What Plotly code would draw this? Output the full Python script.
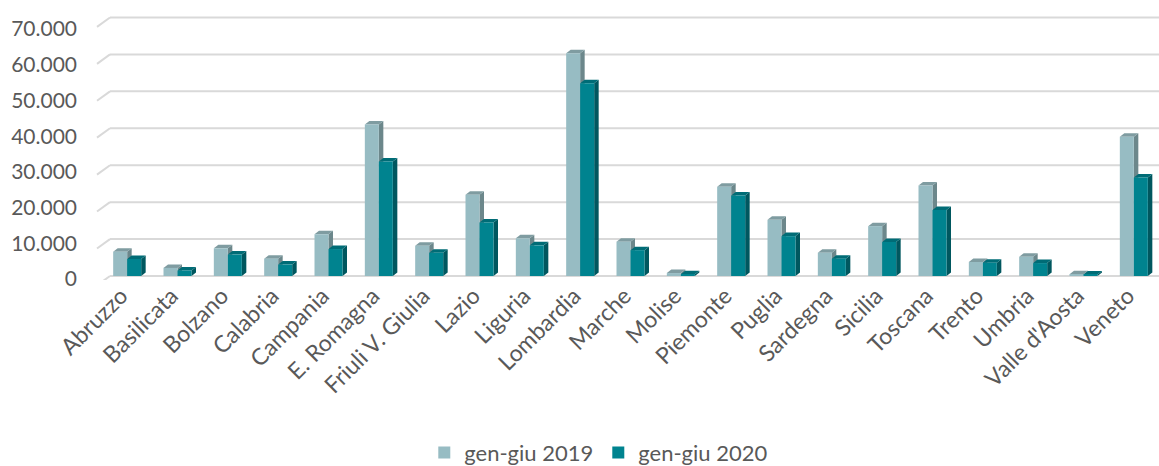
import plotly.graph_objects as go

categories = ["Abruzzo", "Basilicata", "Bolzano", "Calabria", "Campania", "E. Romagna",
              "Friuli V. Giulia", "Lazio", "Liguria", "Lombardia", "Marche", "Molise",
              "Piemonte", "Puglia", "Sardegna", "Sicilia", "Toscana", "Trento", "Umbria",
              "Valle d'Aosta", "Veneto"]
series_2019 = [6600, 2200, 7500, 4700, 11300, 41000, 8200, 22000, 10200, 60300, 9300, 800,
               24200, 15200, 6300, 13500, 24500, 3800, 5200, 500, 37700]
series_2020 = [4600, 1500, 5800, 3100, 7300, 31000, 6300, 14500, 8300, 52200, 7000, 500,
               21800, 10800, 4700, 9200, 17900, 3600, 3500, 400, 26700]
series_names = ["gen-giu 2019", "gen-giu 2020"]
y_ticks = [0, 10000, 20000, 30000, 40000, 50000, 60000, 70000]
y_tick_labels = ["0", "10.000", "20.000", "30.000", "40.000", "50.000", "60.000", "70.000"]

W, H = 1159, 466
ML, MR, MT, MB = 102, 0, 10, 186
plot_w = W - ML - MR
plot_h = H - MT - MB
x_range = [-0.5, len(categories) - 0.5]
y_range = [-1083, 72028]
px_per_x = plot_w / (x_range[1] - x_range[0])
px_per_y = plot_h / (y_range[1] - y_range[0])

bar_w = 14 / px_per_x
depth_x = 4.5 / px_per_x
depth_y = 3.5 / px_per_y

front = ["#97BCC3", "#00838F"]
side = ["#6C878B", "#00575F"]
top = ["#7F9CA1", "#006C76"]
grid_col = "#D9D9D9"
txt = "#595959"
font_family = "Lato, 'Open Sans', sans-serif"

xs = list(range(len(categories)))
shapes = []
# gridlines with small perspective diagonal at the left
diag_dx = 13 / plot_w
diag_dy = 9.4 / px_per_y
start = 8 / plot_w
for t in y_ticks:
    shapes.append(dict(type="line", xref="paper", yref="y", x0=start, x1=1, y0=t, y1=t,
                       line=dict(color=grid_col, width=2), layer="below"))
    shapes.append(dict(type="line", xref="paper", yref="y", x0=start - diag_dx, x1=start,
                       y0=t - diag_dy, y1=t, line=dict(color=grid_col, width=2), layer="below"))

series = [series_2019, series_2020]
offsets = [-bar_w, 0.0]
for s in range(2):
    for i, v in enumerate(series[s]):
        x0 = xs[i] + offsets[s]
        x1 = x0 + bar_w
        # side face
        shapes.append(dict(type="path", xref="x", yref="y", layer="below",
                           path=f"M{x1},0 L{x1 + depth_x},{depth_y} L{x1 + depth_x},{v + depth_y} L{x1},{v} Z",
                           fillcolor=side[s], line=dict(width=0)))
        # top face
        shapes.append(dict(type="path", xref="x", yref="y", layer="below",
                           path=f"M{x0},{v} L{x1},{v} L{x1 + depth_x},{v + depth_y} L{x0 + depth_x},{v + depth_y} Z",
                           fillcolor=top[s], line=dict(width=0)))

fig = go.Figure()
for s in range(2):
    fig.add_trace(go.Bar(x=xs, y=series[s], name=series_names[s], base=0,
                         offset=offsets[s], width=bar_w,
                         marker=dict(color=front[s], line=dict(width=0)),
                         hoverinfo="skip"))
# invisible trace to carry the label axis
fig.add_trace(go.Scatter(x=[0], y=[0], yaxis="y2", mode="markers",
                         marker=dict(opacity=0), showlegend=False, hoverinfo="skip"))

fig.update_layout(
    width=W, height=H,
    margin=dict(l=ML, r=MR, t=MT, b=MB, autoexpand=False),
    paper_bgcolor="white", plot_bgcolor="white",
    barmode="overlay",
    shapes=shapes,
    font=dict(family=font_family, color=txt),
    xaxis=dict(range=x_range, tickvals=xs, ticktext=categories, tickangle=-45,
               showgrid=False, zeroline=False, showline=False, ticks="", automargin=False,
               ticklabelshift=-6, ticklabelstandoff=-3,
               tickfont=dict(size=23, color=txt, family=font_family)),
    yaxis=dict(range=y_range, showgrid=False, zeroline=False, showticklabels=False, ticks="",
               automargin=False),
    yaxis2=dict(range=[-280, 75325], overlaying="y", side="left", tickvals=y_ticks,
                ticktext=y_tick_labels, showgrid=False, zeroline=False, showline=False,
                ticks="", ticklabelstandoff=24, automargin=False,
                tickfont=dict(size=21, color=txt, family=font_family)),
    legend=dict(orientation="h", x=0.47, xanchor="center", y=-0.64, yanchor="middle",
                font=dict(size=22, color=txt, family=font_family), itemwidth=30,
                traceorder="normal"),
    showlegend=True,
)

fig.write_html("out.html", config={"displayModeBar": False},
               post_script="document.body.style.margin='0';document.body.style.padding='0';")
